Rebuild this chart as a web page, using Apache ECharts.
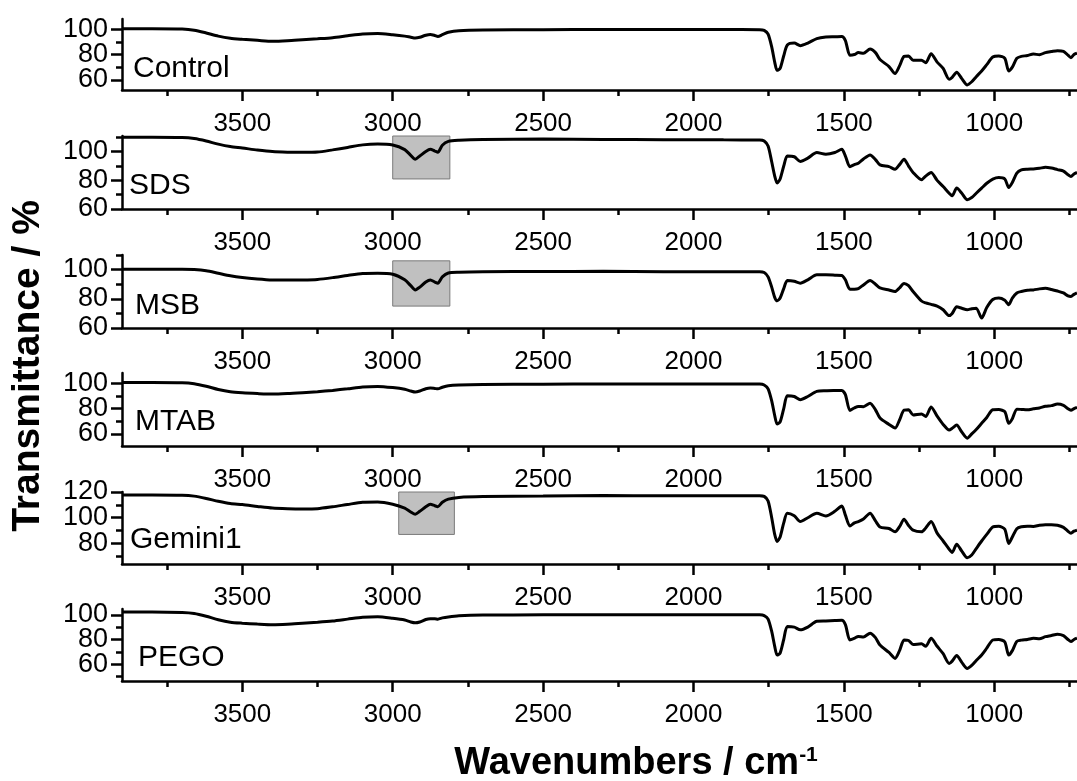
<!DOCTYPE html>
<html>
<head>
<meta charset="utf-8">
<title>FTIR spectra</title>
<script src="https://cdn.jsdelivr.net/npm/echarts@6/dist/echarts.min.js"></script>
<style>
  html, body { margin: 0; padding: 0; background: #fff; }
  #chart { width: 1077px; height: 781px; }
</style>
</head>
<body>
<div id="chart"></div>
<script>
// wavenumber grid (cm-1) shared by all spectra
const wavenumbers = [
  3900, 3800, 3700, 3660, 3620, 3580, 3540, 3500, 3450, 3400,
  3350, 3300, 3250, 3200, 3150, 3100, 3050, 3000, 2960, 2940,
  2925, 2910, 2890, 2875, 2860, 2850, 2835, 2815, 2780, 2700,
  2500, 2300, 2100, 1900, 1780, 1765, 1752, 1740, 1730, 1722,
  1712, 1700, 1688, 1665, 1645, 1620, 1590, 1560, 1530, 1507,
  1495, 1480, 1465, 1452, 1435, 1413, 1395, 1380, 1350, 1330,
  1315, 1300, 1285, 1270, 1242, 1228, 1210, 1190, 1170, 1150,
  1140, 1125, 1108, 1090, 1075, 1060, 1042, 1025, 1005, 985,
  965, 952, 940, 925, 910, 890, 870, 850, 830, 810,
  790, 770, 755, 745, 735, 725
]

const control = [
  100.3, 100.3, 100.1, 99.2, 97, 94.5, 92.8, 92, 91.2, 90.4,
  90.8, 91.6, 92.4, 93.3, 94.8, 96.2, 96.6, 95.6, 94.5, 93.6,
  93, 93.6, 95.2, 95.8, 95, 94.2, 95.6, 97.5, 98.8, 99.4,
  99.6, 99.8, 99.8, 99.7, 99.6, 99, 96, 86, 74, 67.5,
  69, 79, 87.5, 89, 87, 89, 92.5, 93.8, 94, 94.2,
  91, 79.5, 80, 81.5, 81, 84.3, 81.5, 76, 70.5, 65,
  71, 78.5, 78.8, 75.5, 75.5, 73.5, 80.5, 74, 69, 60.5,
  62, 66, 61, 56, 58.5, 62.5, 67, 72, 78, 78.8,
  77, 67, 70, 77, 78.5, 79.2, 80.4, 79.8, 81.5, 82.3,
  83, 82.5, 79.5, 77.5, 80, 81
]

const sds = [
  110.1, 110.1, 109.9, 109.2, 107.5, 105.3, 103.6, 102.6, 101.2, 100.1,
  99.7, 99.6, 99.8, 101.3, 103, 104.8, 105.4, 104.7, 101.5, 97.5,
  94.8, 97, 100.2, 101.7, 100.5, 99.7, 104.5, 107.2, 108, 108.6,
  108.9, 108.6, 108.4, 108.3, 108.2, 107.5, 104, 93, 83, 78.1,
  81, 90, 97, 96.5, 93.2, 95.5, 99.4, 98.3, 99.5, 101.7,
  97, 89.6, 91, 92, 95, 97.8, 94.5, 90.8, 89.6, 87.8,
  91, 94.8, 90, 85.5, 80.4, 83, 85.5, 80, 75.7, 71,
  69.2, 74.6, 71, 66.5, 68, 71, 74.6, 78, 80.9, 82,
  81, 75, 78.5, 85, 87.3, 87.8, 88, 88.4, 89.2, 88.6,
  87.5, 86.5, 84, 82.7, 84.5, 85.5
]

const msb = [
  100.2, 100.2, 100.2, 100, 99.2, 97.5, 95.8, 94.6, 93.6, 92.9,
  92.8, 92.9, 93.3, 94.5, 96, 97.3, 97.5, 96.8, 93, 89,
  86.1, 88, 91.5, 92.9, 91.5, 90.7, 95, 97.7, 98.2, 98.5,
  98.7, 98.8, 98.6, 98.6, 98.6, 98, 95, 88, 81, 78.6,
  80.5, 87, 92.5, 92, 90.7, 93, 96.4, 96.4, 96.2, 96,
  93, 86.6, 86.6, 87, 89.5, 92.5, 90, 87.5, 86, 85,
  87.5, 90.5, 89, 85, 78.5, 77.2, 76.2, 75, 72.5, 68.5,
  70, 74.5, 73.5, 72.5, 73.2, 73.6, 66.8, 74, 79.5, 80.5,
  79, 76, 80.5, 84, 85, 85.8, 86.1, 86.8, 87.2, 86.4,
  85.3, 84, 82, 81.6, 83, 84
]

const mtab = [
  100.6, 100.6, 100.4, 99.6, 97.6, 95, 93.2, 92.4, 91.8, 91.4,
  91.8, 92.5, 93.3, 94.3, 95.6, 97, 97.4, 96.5, 95.2, 93.8,
  93, 93.8, 95.6, 96.2, 95.8, 95.5, 96.8, 98, 98.6, 99,
  99.2, 99.3, 99.3, 99.3, 99.3, 98.6, 95.5, 86, 74.5, 67.8,
  69.5, 80, 90.1, 89.5, 87, 89.5, 93.5, 94, 94.2, 94.3,
  91, 78.5, 80.5, 81.7, 81.5, 84.2, 79, 72.5, 67.5, 64.6,
  71, 78.8, 79, 75, 75.8, 73.7, 81.3, 74, 67.5, 63.1,
  64.5, 67, 61.5, 56.7, 60, 63.5, 68.4, 73, 79, 79.2,
  77.5, 68.4, 72, 79.5, 79.3, 79, 79.8, 80.5, 81.8, 82.3,
  83.5, 82.5, 79.8, 78.7, 80, 81
]

const gemini1 = [
  117.7, 117.7, 117.5, 116.8, 115, 112.8, 111, 110.2, 108.8, 107.5,
  107, 106.8, 107, 108.5, 110.3, 112, 112.2, 110.5, 107.5, 104.5,
  102.7, 105, 108.5, 110.5, 109.3, 108.6, 112, 114.5, 115.8, 116.5,
  116.9, 117.3, 117, 117.1, 117.1, 116.6, 113, 100, 87, 81.5,
  85, 96, 103.5, 101.5, 97, 100, 103.5, 101.4, 105, 109.1,
  102, 93.6, 96, 97, 99, 103.5, 97.5, 92.8, 91.6, 89,
  93, 98.9, 94, 90.3, 89, 92, 97, 88, 81.9, 75.5,
  73, 79.4, 74, 68.8, 71, 76, 81.9, 87, 92.8, 93.4,
  91, 80, 85, 91.5, 93, 93.4, 93.2, 94.1, 94.6, 94.6,
  94.1, 92.5, 89.5, 88, 89.5, 90.3
]

const pego = [
  102.2, 102.2, 101.8, 101, 98.8, 96, 94, 93.2, 92.5, 92,
  92.4, 93.2, 94, 95, 96.5, 98, 98.4, 97.2, 95.8, 94.2,
  93.5, 94.2, 96.2, 96.8, 96.8, 96.5, 97.5, 98.3, 99.2, 99.8,
  100, 100.1, 100.1, 100.1, 100, 99.4, 96.5, 86.5, 74.5, 67.4,
  69, 80, 90.5, 90, 87.8, 90, 94.7, 95, 95.3, 95.5,
  92, 79.6, 81, 82.5, 82, 85.1, 81.5, 75.5, 69.5, 64.7,
  71, 79.6, 79.2, 76, 76.5, 74.5, 81, 74.5, 68.5, 60.6,
  62.5, 67, 61.5, 56.5, 59, 63, 67.5, 73, 79.6, 80,
  78, 67.4, 71, 78.5, 79.5, 80, 81, 80.6, 82.3, 83.2,
  84.3, 83.2, 80, 78.3, 80, 81
]

const sampleNames = ['Control', 'SDS', 'MSB', 'MTAB', 'Gemini1', 'PEGO']
const spectra = [control, sds, msb, mtab, gemini1, pego]

// axis ticks
const xMajorTicks = [3500, 3000, 2500, 2000, 1500, 1000]
const xMinorTicks = [3750, 3250, 2750, 2250, 1750, 1250, 750]
const yRanges = [[52, 108], [60, 111], [60, 110], [50.5, 108], [64, 120], [46.4, 104.7]]
const yMajorTicks = [[60, 80, 100], [60, 80, 100], [60, 80, 100], [60, 80, 100], [80, 100, 120], [60, 80, 100]]
const yMinorTicks = [[70, 90], [70, 90, 110], [70, 90, 110], [70, 90], [70, 90, 110], [50, 70, 90]]

// highlighted C-H stretching regions: [wn from, wn to, T low, T high]
const boxes = [null, [3000, 2810, 81, 113], [3000, 2810, 75, 106], null, [2980, 2795, 87, 122], null]

// panel layout (px)
const panelTops = [19, 136, 255, 373, 492, 609]
const panelBottoms = [90, 209, 328, 446, 564, 681]
const nameLeft = [133, 129, 135, 135, 130, 138]
const nameMiddle = [68.5, 186, 305.5, 422, 539.5, 658]

const FONT = '"Liberation Sans", Arial, sans-serif'
const ink = '#000'

const chart = echarts.init(document.getElementById('chart'))

const grids = []
const xAxes = []
const yAxes = []
const series = []
const graphics = []

const plain = v => String(v)
const yLabelStyle = {
  show: true, formatter: plain, hideOverlap: false,
  showMinLabel: true, showMaxLabel: true,
  margin: 14, fontSize: 27, color: ink, fontFamily: FONT
}

sampleNames.forEach((name, i) => {
  grids.push({
    left: 122,
    right: 0,
    top: panelTops[i],
    height: panelBottoms[i] - panelTops[i]
  })

  const xBase = {
    gridIndex: i,
    type: 'value',
    min: 725,
    max: 3900,
    inverse: true,
    position: 'bottom',
    splitLine: { show: false }
  }
  xAxes.push(Object.assign({}, xBase, {
    axisLine: { show: true, onZero: false, lineStyle: { color: ink, width: 2.5 } },
    axisTick: { show: true, customValues: xMajorTicks, length: 11, lineStyle: { color: ink, width: 2.5 } },
    axisLabel: {
      show: true, customValues: xMajorTicks, formatter: plain, hideOverlap: false,
      showMinLabel: true, showMaxLabel: true,
      margin: 21, fontSize: 26, color: ink, fontFamily: FONT
    }
  }))
  xAxes.push(Object.assign({}, xBase, {
    axisLine: { show: false },
    axisTick: { show: true, customValues: xMinorTicks, length: 6, lineStyle: { color: ink, width: 2.5 } },
    axisLabel: { show: false }
  }))

  const yBase = {
    gridIndex: i,
    type: 'value',
    min: yRanges[i][0],
    max: yRanges[i][1],
    position: 'left',
    splitLine: { show: false }
  }
  const majors = yMajorTicks[i]
  // outer labels on the main axis, the middle one on the minor-tick axis,
  // so the tightly packed labels are never dropped as overlapping
  yAxes.push(Object.assign({}, yBase, {
    axisLine: { show: true, onZero: false, lineStyle: { color: ink, width: 2.5 } },
    axisTick: { show: true, customValues: majors, length: 11, lineStyle: { color: ink, width: 2.5 } },
    axisLabel: Object.assign({}, yLabelStyle, { customValues: [majors[0], majors[2]] })
  }))
  yAxes.push(Object.assign({}, yBase, {
    axisLine: { show: false },
    axisTick: { show: true, customValues: yMinorTicks[i], length: 6, lineStyle: { color: ink, width: 2.5 } },
    axisLabel: Object.assign({}, yLabelStyle, { customValues: [majors[1]] })
  }))

  const s = {
    type: 'line',
    name: name,
    xAxisIndex: 2 * i,
    yAxisIndex: 2 * i,
    data: wavenumbers.map((w, k) => [w, spectra[i][k]]),
    symbol: 'none',
    smooth: 0.25,
    lineStyle: { color: ink, width: 3 },
    z: 3
  }
  if (boxes[i]) {
    const b = boxes[i]
    s.markArea = {
      silent: true,
      itemStyle: { color: '#c0c0c0', borderColor: '#7a7a7a', borderWidth: 1 },
      data: [[{ xAxis: b[0], yAxis: b[2] }, { xAxis: b[1], yAxis: b[3] }]]
    }
  }
  series.push(s)

  graphics.push({
    type: 'text',
    x: nameLeft[i],
    y: nameMiddle[i],
    style: {
      text: name,
      fill: ink,
      font: '30px ' + FONT,
      textAlign: 'left',
      textVerticalAlign: 'middle'
    }
  })
})

// axis titles
graphics.push({
  type: 'text',
  x: 28,
  y: 366,
  rotation: Math.PI / 2,
  style: {
    text: 'Transmittance / %',
    fill: ink,
    font: 'bold 39px ' + FONT,
    textAlign: 'center',
    textVerticalAlign: 'middle'
  }
})
graphics.push({
  type: 'text',
  x: 636,
  y: 764,
  style: {
    text: '{a|Wavenumbers / cm}{b|-1}',
    fill: ink,
    textAlign: 'center',
    textVerticalAlign: 'middle',
    rich: {
      a: { fontSize: 38, fontWeight: 'bold', fontFamily: FONT, fill: ink },
      b: { fontSize: 21, fontWeight: 'bold', fontFamily: FONT, fill: ink, verticalAlign: 'top' }
    }
  }
})

chart.setOption({
  animation: false,
  backgroundColor: '#fff',
  grid: grids,
  xAxis: xAxes,
  yAxis: yAxes,
  series: series,
  graphic: graphics
})
</script>
</body>
</html>
